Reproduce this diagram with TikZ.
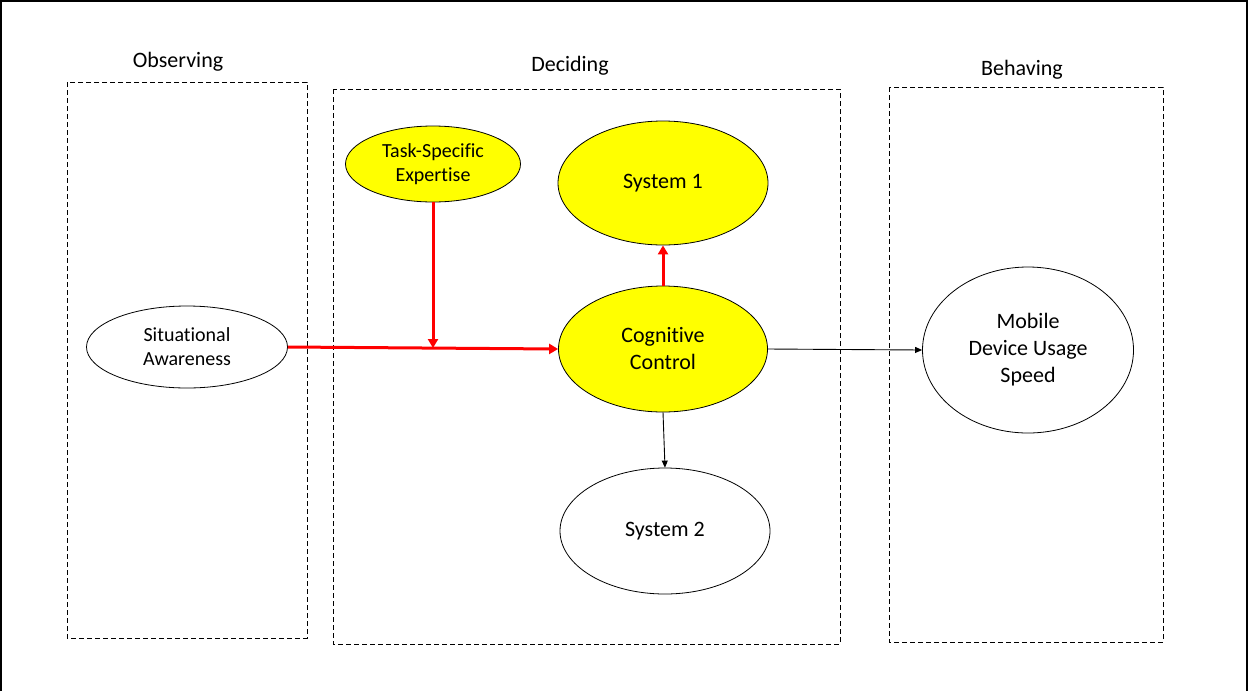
\documentclass[tikz,border=0pt]{standalone}
\usepackage{fontspec}
\setmainfont{Carlito}[Ligatures=NoCommon]
\usetikzlibrary{shapes.geometric,arrows.meta}
\definecolor{ylw}{RGB}{255,255,0}
\begin{document}
\begin{tikzpicture}[x=1pt,y=-1pt,
  stage/.style={draw,dashed,dash pattern=on 5pt off 3pt,line width=1pt},
  header/.style={font=\fontsize{22}{27}\selectfont},
  ell/.style={ellipse,draw,line width=0.8pt,inner sep=0pt,align=center,font=\fontsize{22}{27}\selectfont},
  yell/.style={ell,fill=ylw},
  redarrow/.style={draw=red,line width=3pt,-{Triangle[length=9pt,width=10pt]}},
  blackarrow/.style={draw,line width=0.9pt,-{Triangle[length=7pt,width=6pt]}}]
\useasboundingbox (0,0) rectangle (1249,691);
% outer frame
\draw[line width=2pt] (1,691) -- (1,1) -- (1247,1) -- (1247,691);
% stages
\draw[stage] (67,82) rectangle (307,638);
\draw[stage] (333,89) rectangle (840,644);
\draw[stage] (889,87) rectangle (1163,642);
\node[header] (hobs) at (178,62) {Observing};
\node[header] (hdec) at (570,66) {Deciding};
\node[header] (hbeh) at (1022,70) {Behaving};
% nodes
\node[ell,minimum width=201pt,minimum height=82pt,font=\fontsize{20}{24}\selectfont] (sa) at (187,347) {Situational\\Awareness};
\node[yell,minimum width=175pt,minimum height=76pt,font=\fontsize{20}{24}\selectfont] (tse) at (433,164) {Task-Specific\\Expertise};
\node[yell,minimum width=210pt,minimum height=124pt] (s1) at (663,183) {System 1};
\node[yell,minimum width=209pt,minimum height=126pt] (cc) at (663,349) {Cognitive\\Control};
\node[ell,minimum width=210pt,minimum height=126pt] (s2) at (665,531) {System 2};
\node[ell,minimum width=211pt,minimum height=166pt] (md) at (1028,350) {Mobile\\Device Usage\\Speed};
% connectors
\coordinate (m) at (433,348);
\draw[redarrow] (sa.east) -- (cc.west);
\draw[redarrow] (tse.south) -- (m);
\draw[redarrow] (cc.north) -- (s1.south);
\draw[blackarrow] (cc.south) -- (s2.north);
\draw[blackarrow] (cc.east) -- (md.west);
\end{tikzpicture}
\end{document}
